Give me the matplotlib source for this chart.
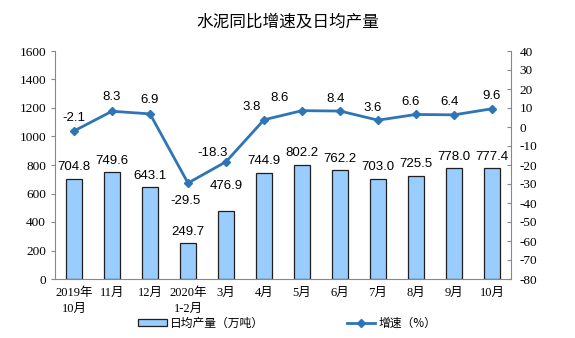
import matplotlib
matplotlib.use("Agg")
import matplotlib.pyplot as plt
import numpy as np

plt.rcParams["font.family"] = ["Liberation Sans", "Noto Sans CJK SC"]
plt.rcParams["axes.unicode_minus"] = False

categories = ["2019年\n10月", "11月", "12月", "2020年\n1-2月", "3月", "4月",
              "5月", "6月", "7月", "8月", "9月", "10月"]
output = [704.8, 749.6, 643.1, 249.7, 476.9, 744.9, 802.2, 762.2, 703.0, 725.5, 778.0, 777.4]
growth = [-2.1, 8.3, 6.9, -29.5, -18.3, 3.8, 8.6, 8.4, 3.6, 6.6, 6.4, 9.6]

# label offsets in points (dx, dy) for the growth labels
growth_offsets = [(0, 9), (0, 10), (0, 10), (-2, -13), (-10, 6), (-9, 9),
                  (-16, 9), (-3, 9), (-4, 9), (-4, 9), (-3, 9), (0, 9)]

fig = plt.figure(figsize=(5.75, 3.38), dpi=100)
ax = fig.add_axes([55 / 575, 1 - 279 / 338, 456 / 575, 228 / 338])
x = np.arange(len(categories))

ax.bar(x, output, width=0.42, color="#99ccff", edgecolor="#1f1f1f", linewidth=0.9,
       label="日均产量（万吨）", zorder=2)
ax.set_xlim(-0.5, len(categories) - 0.5)
ax.set_ylim(0, 1600)
ax.set_yticks(np.arange(0, 1601, 200))
ax.set_xticks(x)
ax.set_xticklabels(categories, fontsize=9, linespacing=1.45,
                   family=["Liberation Serif", "Noto Sans CJK SC"])
for lab in ax.get_yticklabels():
    lab.set_family("Liberation Serif")
    lab.set_fontsize(9.5)
ax.tick_params(axis="x", length=0, pad=6)
ax.tick_params(axis="y", length=3, direction="out", color="#888888")
for side in ["top", "right"]:
    ax.spines[side].set_visible(False)
for side in ["left", "bottom"]:
    ax.spines[side].set_color("#888888")

for xi, v in zip(x, output):
    dy = 14 if xi == 4 else 4
    ax.annotate(f"{v:.1f}", (xi, v), xytext=(0, dy), textcoords="offset points",
                ha="center", va="bottom", fontsize=9.5)

ax2 = ax.twinx()
ax2.plot(x, growth, color="#2e75b6", linewidth=2, marker="D", markersize=4,
         label="增速（%）", zorder=3)
ax2.set_ylim(-80, 40)
ax2.set_yticks(np.arange(-80, 41, 10))
for lab in ax2.get_yticklabels():
    lab.set_family("Liberation Serif")
    lab.set_fontsize(9.5)
ax2.tick_params(axis="y", length=3, direction="in", color="#888888", pad=6)
for side in ["top", "left", "bottom"]:
    ax2.spines[side].set_visible(False)
ax2.spines["right"].set_color("#888888")

for xi, v, (dx, dy) in zip(x, growth, growth_offsets):
    ax2.annotate(f"{v:.1f}", (xi, v), xytext=(dx, dy), textcoords="offset points",
                 ha="center", va="center", fontsize=9.5)

fig.text(0.5, 1 - 22 / 338, "水泥同比增速及日均产量", ha="center", va="center",
         fontsize=12, family=["Noto Sans CJK SC"])

h1, l1 = ax.get_legend_handles_labels()
h2, l2 = ax2.get_legend_handles_labels()
fig.legend(h1 + h2, l1 + l2, loc="center", bbox_to_anchor=(0.5, 1 - 323 / 338),
           ncol=2, frameon=False, columnspacing=7, handlelength=2.4, handleheight=0.5,
           handletextpad=0.3, prop={"family": ["Noto Sans CJK SC"], "size": 8.5})

fig.savefig("out.png", dpi=100)
